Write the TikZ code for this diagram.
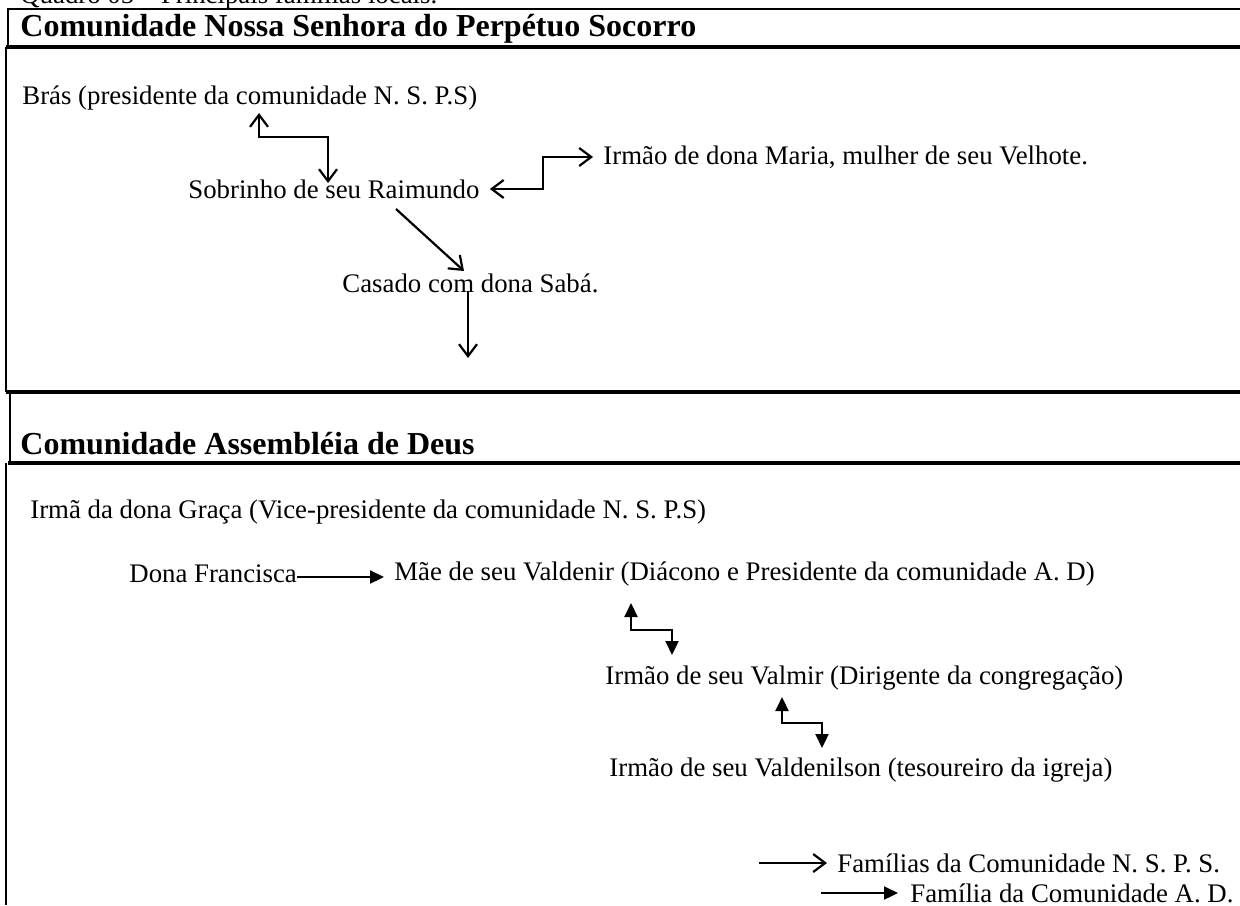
\documentclass[tikz,border=0pt]{standalone}
\usepackage{fontspec}
\setmainfont{Liberation Serif}
\usetikzlibrary{arrows.meta, calc}

\begin{document}
\begin{tikzpicture}[
    x = 0.5pt, y = -0.5pt,
    person/.style = {anchor = west,
      inner sep = 0pt,
      font = \fontsize{13.4}{15}\selectfont},
    header/.style = {anchor = west,
      inner sep = 0pt,
      font = \fontsize{16}{18}\selectfont\bfseries},
    frame/.style = {line width = 0.8pt},
    thickframe/.style = {line width = 1.6pt},
    nsps/.style = {line width = 1.1pt,
      -{Straight Barb[length = 6pt, width = 9pt]}},
    ad/.style = {line width = 1.1pt,
      -{Triangle[length = 7pt, width = 6.5pt]}}
    ]
    \useasboundingbox (0, 0) rectangle (1240, 905);

    % table frame
    \draw [frame] (1240, 9) -- (8, 9) -- (8, 47);
    \draw [thickframe] (6, 47) -- (1240, 47);
    \draw [frame] (6, 47) -- (6, 392);
    \draw [thickframe] (6, 392) -- (1240, 392);
    \draw [frame] (10, 392) -- (10, 463);
    \draw [thickframe] (8, 463) -- (1240, 463);
    \draw [frame] (6, 463) -- (6, 905);

    \node at (20, 3) [person, anchor = base west, name = quadro] {Quadro 05 -- Principais famílias locais.};
    \node at (20, 29) [header, name = hnsps] {Comunidade Nossa Senhora do Perpétuo Socorro};
    \node at (20, 444) [header, name = had] {Comunidade Assembléia de Deus};

    % Comunidade N. S. P. S.
    \node at (22, 98) [person, name = bras] {Brás (presidente da comunidade N. S. P.S)};
    \node at (188, 189) [person, name = sobrinho] {Sobrinho de seu Raimundo};
    \node at (603, 157) [person, name = irmaria] {Irmão de dona Maria, mulher de seu Velhote.};
    \node at (342, 283) [person, name = casado] {Casado com dona Sabá.};

    \coordinate (brasup) at (259, 113);
    \coordinate (sobdown) at (328, 183);
    \coordinate (sobout) at (396, 209);
    \coordinate (casin) at (464, 271);
    \coordinate (casout) at (468, 291);
    \coordinate (casend) at (468, 358);

    \draw [nsps, {Straight Barb[length = 6pt, width = 9pt]}-{Straight Barb[length = 6pt, width = 9pt]}]
      (brasup) -- ++(0, 24) -| (sobdown);
    \draw [nsps, {Straight Barb[length = 6pt, width = 9pt]}-{Straight Barb[length = 6pt, width = 9pt]}]
      ([xshift = 5pt]sobrinho.east) -- ++(53, 0) |- ([xshift = -5pt]irmaria.west);
    \draw [nsps] (sobout) -- (casin);
    \draw [nsps] (casout) -- (casend);

    % Comunidade A. D.
    \node at (30, 512) [person, name = graca] {Irmã da dona Graça (Vice-presidente da comunidade N. S. P.S)};
    \node at (129, 574) [person, name = fran] {Dona Francisca};
    \node at (394, 574) [person, name = mae] {Mãe de seu Valdenir (Diácono e Presidente da comunidade A. D)};
    \node at (605, 678) [person, name = valmir] {Irmão de seu Valmir (Dirigente da congregação)};
    \node at (609, 770) [person, name = valdenilson] {Irmão de seu Valdenilson (tesoureiro da igreja)};

    \coordinate (maeup) at (631, 603);
    \coordinate (valmirdown) at (672, 655);
    \coordinate (valmirup) at (782, 697);
    \coordinate (valdown) at (822, 748);

    \draw [ad] ([yshift = -1.5pt]fran.east) -- ([yshift = -1.5pt, xshift = -5pt]mae.west);
    \draw [ad, {Triangle[length = 7pt, width = 6.5pt]}-{Triangle[length = 7pt, width = 6.5pt]}]
      (maeup) -- ++(0, 27) -| (valmirdown);
    \draw [ad, {Triangle[length = 7pt, width = 6.5pt]}-{Triangle[length = 7pt, width = 6.5pt]}]
      (valmirup) -- ++(0, 26) -| (valdown);

    % legend
    \node at (837, 863) [person, name = legnsps] {Famílias da Comunidade N. S. P. S.};
    \node at (910, 893) [person, name = legad] {Família da Comunidade A. D.};
    \coordinate (legnspsfrom) at (759, 863);
    \coordinate (legadfrom) at (821, 893);
    \draw [nsps] (legnspsfrom) -- ([xshift = -5pt]legnsps.west);
    \draw [ad] (legadfrom) -- ([xshift = -6pt]legad.west);

  \end{tikzpicture}
\end{document}
